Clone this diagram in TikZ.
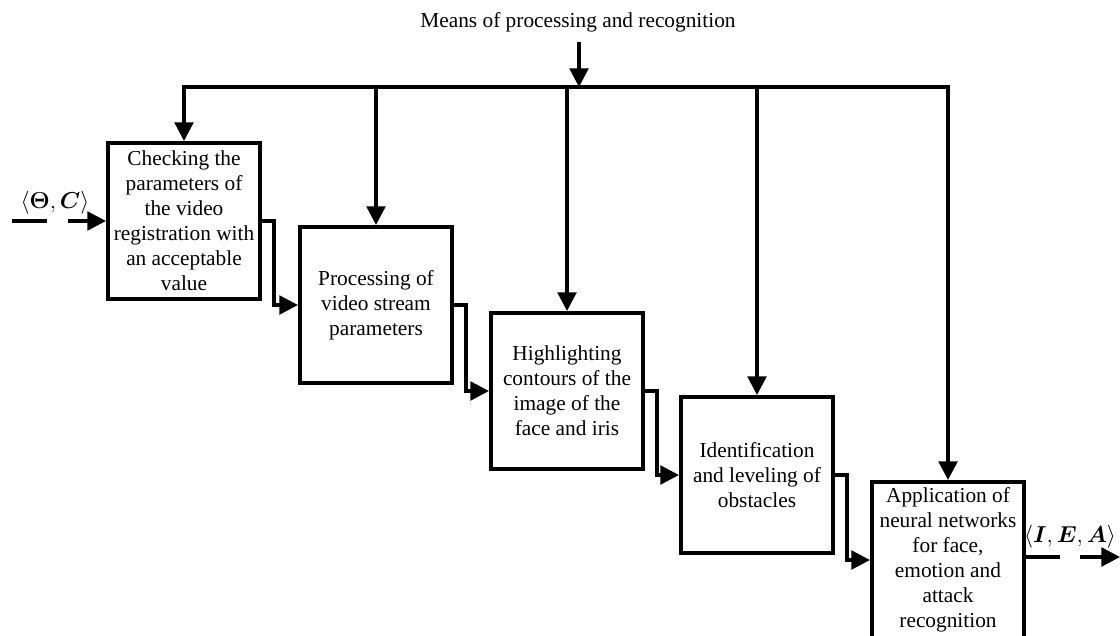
\documentclass[tikz,border=0pt]{standalone}
\usepackage{fontspec}
\setmainfont{Liberation Serif}
\usepackage{amsmath,bm}
\usetikzlibrary{arrows.meta}
\begin{document}
\begin{tikzpicture}[x=0.75pt,y=-0.75pt,
  blk/.style={draw,line width=3pt,minimum width=114pt,minimum height=117pt,
    inner sep=3pt,align=center,
    font=\fontsize{16}{18.75}\selectfont},
  conn/.style={line width=2.6pt},
  arr/.style={conn,-{Triangle[length=14pt,width=14pt]}},
  lbl/.style={inner sep=0pt,font=\fontsize{16}{18.75}\selectfont}]
\useasboundingbox (0,0) rectangle (1120,635);
\clip (0,0) rectangle (1120,635);

\node[blk] (b1) at (184,221) {Checking the\\parameters of\\the video\\registration with\\an acceptable\\value};
\node[blk] (b2) at (376,305) {Processing of\\video stream\\parameters};
\node[blk] (b3) at (567,391) {Highlighting\\contours of the\\image of the\\face and iris};
\node[blk] (b4) at (757,475) {Identification\\and leveling of\\obstacles};
\node[blk] (b5) at (948,560) {Application of\\neural networks\\for face,\\emotion and\\attack\\recognition};

% top input and bus
\node[lbl] (title) at (578,22) {Means of processing and recognition};
\coordinate (inTop) at (579,42);
\coordinate (busIn) at (579,87);
\coordinate (busL) at (184,87);
\coordinate (busR) at (948,87);
\draw[conn] ([xshift=-1.3pt]busL) -- ([xshift=1.3pt]busR);
\draw[arr] (inTop) -- (busIn);
\draw[arr] (busL) -- (b1.north);
\draw[arr] (b2.north |- busL) -- (b2.north);
\draw[arr] (b3.north |- busL) -- (b3.north);
\draw[arr] (b4.north |- busL) -- (b4.north);
\draw[arr] (busR) -- (b5.north);

% step connectors
\draw[arr] (b1.east) -- ++(12,0) |- (b2.west);
\draw[arr] (b2.east) -- ++(12,0) |- (b3.west);
\draw[arr] (b3.east) -- ++(12,0) |- (b4.west);
\draw[arr] (b4.east) -- ++(12,0) |- (b5.west);

% input
\coordinate (inA) at (12,221);
\coordinate (inB) at (47,221);
\coordinate (inC) at (68,221);
\draw[conn] (inA) -- (inB);
\draw[arr] (inC) -- (b1.west);
\node[lbl] (inLbl) at (55,203) {$\langle\boldsymbol{\Theta},\boldsymbol{C}\rangle$};

% output
\coordinate (outB) at (1060,557);
\coordinate (outC) at (1080,557);
\coordinate (outD) at (1120,557);
\draw[conn] (b5.east |- outB) -- (outB);
\draw[arr] (outC) -- (outD);
\node[lbl] (outLbl) at (1070,537) {$\langle\boldsymbol{I},\boldsymbol{E},\boldsymbol{A}\rangle$};
\end{tikzpicture}
\end{document}
